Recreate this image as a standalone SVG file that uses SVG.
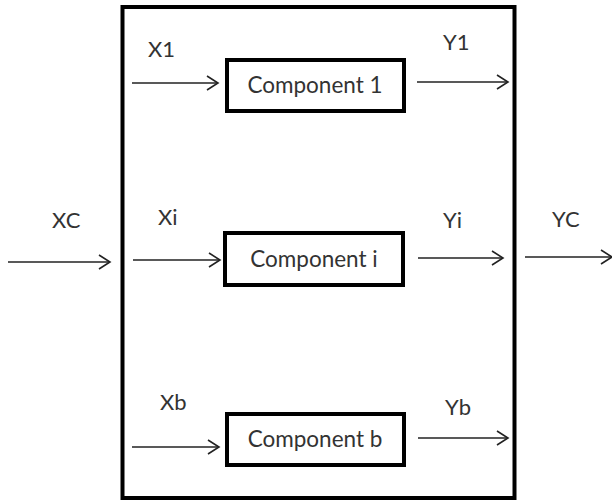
<svg xmlns="http://www.w3.org/2000/svg" width="612" height="500" viewBox="0 0 612 500">
<style>
.box{fill:#fff;stroke:#000;stroke-width:4}
.txt{font-family:Lato,"Open Sans",sans-serif;font-size:22.5px;fill:#333}
.lbl{font-family:Lato,"Open Sans",sans-serif;font-size:22px;fill:#333}
.con{stroke:#222;stroke-width:1.6;fill:none}
.head{stroke:#222;stroke-width:1.6;fill:none}
</style>
<defs>
<marker id="arr" markerWidth="14" markerHeight="16" refX="12" refY="8" orient="auto" markerUnits="userSpaceOnUse">
<path class="head" d="M1,1 L12,8 L1,15"/>
</marker>
</defs>
<rect width="612" height="500" fill="#fff"/>
<g id="system">
<rect class="box" x="122.5" y="7" width="392" height="491"/>
</g>
<g id="component1">
<rect class="box" x="227" y="60" width="177" height="51"/>
<text class="txt" x="315" y="93" text-anchor="middle">Component 1</text>
</g>
<g id="componenti">
<rect class="box" x="225" y="233" width="178" height="52"/>
<text class="txt" x="314" y="267" text-anchor="middle">Component i</text>
</g>
<g id="componentb">
<rect class="box" x="227" y="414" width="177" height="51"/>
<text class="txt" x="315" y="447" text-anchor="middle">Component b</text>
</g>
<g id="labels">
<text class="lbl" x="148" y="57">X1</text>
<text class="lbl" x="443" y="50">Y1</text>
<text class="lbl" x="52" y="228">XC</text>
<text class="lbl" x="158" y="225">Xi</text>
<text class="lbl" x="443" y="228">Yi</text>
<text class="lbl" x="552" y="227">YC</text>
<text class="lbl" x="160" y="410">Xb</text>
<text class="lbl" x="445" y="415">Yb</text>
</g>
<g id="connectors">
<line class="con" x1="8" y1="262" x2="110" y2="262" marker-end="url(#arr)"/>
<line class="con" x1="525" y1="257" x2="612" y2="257" marker-end="url(#arr)"/>
<line class="con" x1="132" y1="83" x2="218" y2="83" marker-end="url(#arr)"/>
<line class="con" x1="417" y1="82" x2="508" y2="82" marker-end="url(#arr)"/>
<line class="con" x1="133" y1="260" x2="220" y2="260" marker-end="url(#arr)"/>
<line class="con" x1="418" y1="258" x2="503" y2="258" marker-end="url(#arr)"/>
<line class="con" x1="132" y1="447" x2="219" y2="447" marker-end="url(#arr)"/>
<line class="con" x1="418" y1="438" x2="508" y2="438" marker-end="url(#arr)"/>
</g>
</svg>
